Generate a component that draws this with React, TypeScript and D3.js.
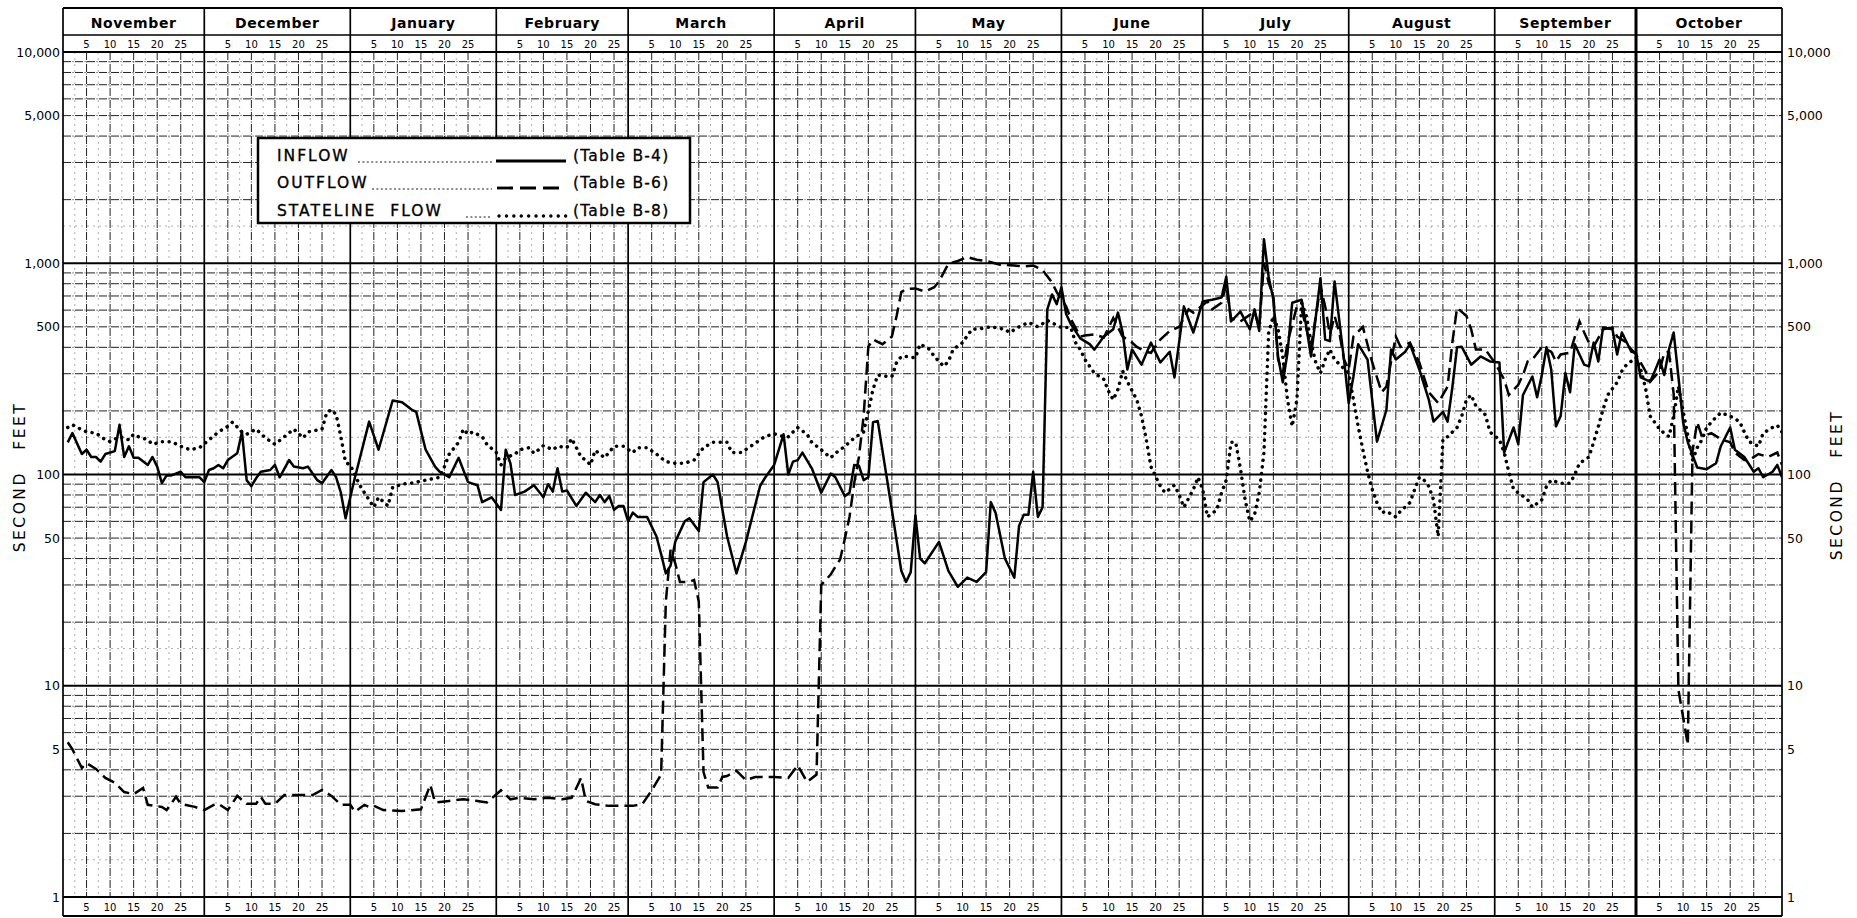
import React from 'react';
import * as d3 from 'd3';

// ---------- DATA ----------
const months = ['November', 'December', 'January', 'February', 'March', 'April', 'May', 'June', 'July', 'August', 'September', 'October'];
const monthDays = [30, 31, 31, 28, 31, 30, 31, 30, 31, 31, 30, 31];
const dayTickLabels = [5, 10, 15, 20, 25];
const yLabelValues = [1, 5, 10, 50, 100, 500, 1000, 5000, 10000];
const axisTitle = 'SECOND FEET';

// [day of water year (Nov 1 = 1), second-feet]
const inflow: [number, number][] = [
  [1,142],[2,157],[4,125],[5,131],[6,121],[7,121],[8,115],[9,125],[11,129],[12,172],[13,121],[14,136],[15,120],[16,120],[18,111],[19,121],[20,109],[21,91],[22,99],[23,99],[25,103],[26,97],[28,97],[29,97],[30,92],
  [31,105],[32,107],[33,111],[34,107],[35,117],[37,126],[38,159],[39,94],[40,88],[41,96],[42,103],[44,105],[45,111],[46,97],[48,117],[49,109],[51,107],[52,109],[54,94],[55,91],[57,105],[58,97],[59,82],[60,62],[61,78],[62,97],[65,178],[67,131],[70,224],[72,220],[74,203],[75,198],[77,131],[79,109],[80,103],[82,97],[84,120],[86,92],[88,89],[89,74],[91,78],[93,68],[94,131],[95,113],[96,80],[98,83],[100,89],[102,78],[103,90],[104,83],[105,107],[106,83],[107,84],[109,71],[111,82],[113,74],[114,80],[115,74],[116,79],[117,68],[118,71],
  [119,71],[120,60],[121,66],[122,63],[124,63],[126,51],[127,42],[128,34],[129,37],[130,48],[132,60],[133,62],[135,54],[136,92],[138,100],[139,92],[141,51],[143,34],[145,48],[148,88],[149,96],[151,111],[153,155],[154,100],[155,115],[156,117],[157,127],[159,107],[161,82],[163,101],[164,97],[166,79],[167,82],[168,111],[169,110],[170,94],[171,97],[172,177],[173,179],[176,68],[178,35],[179,31],[180,34.5],[181,64],[182,40],[183,38],[186,48],[188,35],[190,29.4],[192,32.5],[194,31],[196,34.5],[197,74],[198,66],[200,40],[202,32.5],[203,57],[204,64.5],[205,64.5],[206,103],[207,63],[208,70],
  [209,605],[210,712],[211,640],[212,770],[213,575],[214,515],[216,441],[218,414],[219,390],[221,450],[223,487],[224,584],[225,470],[226,314],[227,391],[229,331],[231,421],[233,339],[235,381],[236,288],[238,625],[240,470],[242,660],[244,672],[246,688],[247,863],[248,530],[250,590],[252,487],[253,605],[254,478],[255,1300],[256,863],[257,672],[258,362],[259,273],[260,377],[261,650],[263,672],[264,500],[265,362],[267,850],[268,435],[269,428],[270,820],[272,350],[273,218],[274,291],[275,414],[277,350],[279,143],[281,202],[282,391],[283,350],[285,381],[286,414],[288,314],[290,226],[291,178],[293,198],[294,178],[295,258],[296,400],[297,402],[299,331],[301,362],[303,343],[305,339],[306,127],[308,167],[309,139],[310,238],[312,291],[313,232],[314,296],[315,400],[316,314],[317,169],[318,189],[319,302],[320,245],[321,414],[323,331],[324,325],[325,421],[326,343],[327,496],[329,487],[330,370],[331,470],[333,381],[334,377],[335,288],[337,275],[338,309],[339,350],[340,296],[341,391],[342,470],[343,291],[344,177],[345,142],[347,108],[349,106],[351,113],[352,136],[354,167],[355,131],[357,121],[359,103],[360,107],[361,97],[363,103],[364,111],[365,97],
];

const outflow: [number, number][] = [
  [1,5.4],[2,5.0],[4,4.08],[5,4.3],[7,4.04],[9,3.66],[11,3.47],[13,3.14],[15,3.07],[17,3.28],[18,2.73],[21,2.67],[22,2.58],[24,2.98],[25,2.76],[28,2.67],[30,2.58],[32,2.73],[33,2.76],[35,2.58],[37,3.01],[39,2.76],[41,2.76],[42,2.98],[43,2.76],[45,2.76],[47,3.04],[50,3.04],[53,3.04],[55,3.21],[57,3.01],[59,2.73],[61,2.73],[62,2.53],[64,2.73],[65,2.67],[66,2.7],[68,2.58],[72,2.55],[76,2.6],[78,3.4],[79,2.8],[82,2.85],[85,2.9],[88,2.85],[90,2.8],[93,3.2],[95,2.9],[97,2.95],[100,2.9],[103,2.95],[106,2.9],[108,2.95],[110,3.66],[111,2.85],[113,2.75],[116,2.7],[119,2.7],[121,2.7],[123,2.75],[125,3.2],[127,3.8],
  [128,25],[129,44],[130,38],[131,31],[133,31],[134,31.7],[135,25],[136,3.9],[137,3.3],[139,3.3],[140,3.7],[141,3.74],[143,3.96],[145,3.58],[147,3.7],[151,3.7],[154,3.66],[156,4.2],[158,3.5],[160,3.8],[161,30],[163,33.6],[164,36.6],[165,39.6],[166,49.5],[167,63],[168,91],[169,121],[170,189],[171,403],[172,435],[174,414],[176,450],[177,563],[178,730],[179,755],[181,760],[183,735],[185,770],[186,820],[188,995],[190,1025],[192,1070],[194,1040],[196,1025],[199,985],[202,975],[204,965],[206,975],[208,930],[210,810],[211,730],[213,625],[214,545],[216,450],[217,455],[219,460],[221,445],[223,550],[225,450],[227,421],[228,402],[230,381],[231,377],[233,435],[235,478],[237,500],[239,605],[240,584],[243,660],[244,605],[246,650],[247,795],[248,550],[250,530],[251,550],[253,590],[254,495],[255,1005],[256,810],[257,700],[258,350],[259,302],[260,421],[262,625],[263,605],[265,400],[267,780],[268,625],[269,460],[270,563],[271,470],[272,350],[273,314],[274,450],[276,500],[278,339],[280,245],[281,261],[283,450],[284,402],[286,421],[288,339],[290,245],[292,218],[294,261],[295,421],[296,615],[298,563],[299,487],[300,391],[302,391],[304,339],[306,282],[307,238],[309,266],[310,296],[311,343],[312,350],[314,400],[316,381],[317,343],[318,370],[320,377],[322,530],[323,470],[324,421],[325,402],[327,487],[329,496],[330,450],[332,421],[333,391],[334,370],[336,309],[337,275],[339,309],[340,377],[341,381],[342,240],[343,9.6],[344,7.1],[345,5.25],[346,129],[347,177],[348,151],[350,157],[352,147],[354,142],[355,127],[357,117],[358,117],[360,125],[362,121],[364,127],[365,111],
];

const stateline: [number, number][] = [
  [1,167],[2,172],[3,167],[5,159],[7,157],[9,146],[10,143],[12,151],[14,146],[15,155],[16,151],[18,146],[19,139],[21,143],[23,143],[25,136],[27,131],[29,134],[31,146],[33,159],[35,169],[36,177],[38,159],[39,155],[41,164],[43,149],[45,139],[47,151],[49,164],[51,149],[52,159],[55,164],[56,196],[57,203],[58,192],[59,151],[60,114],[61,111],[63,89],[64,82],[66,70],[67,78],[69,71],[70,87],[72,90],[74,91],[77,94],[80,97],[81,109],[82,125],[84,142],[85,164],[86,155],[87,159],[89,151],[90,139],[92,127],[93,111],[94,120],[96,125],[97,131],[99,134],[100,126],[101,131],[102,137],[104,131],[105,136],[107,134],[108,148],[109,134],[110,121],[111,117],[112,111],[113,130],[114,125],[115,120],[117,136],[119,136],[121,127],[122,134],[124,134],[126,125],[128,115],[130,113],[132,113],[134,117],[136,134],[138,142],[141,142],[142,127],[144,127],[146,136],[149,151],[151,156],[153,151],[154,151],[156,167],[158,155],[159,142],[161,131],[163,120],[164,126],[166,136],[168,149],[170,159],[171,200],[172,253],[173,296],[175,291],[176,291],[177,339],[178,362],[179,362],[181,357],[182,414],[184,391],[185,362],[187,325],[188,343],[189,391],[191,421],[193,487],[195,491],[197,500],[200,487],[201,470],[203,500],[205,525],[207,500],[209,536],[212,496],[214,496],
  [215,421],[216,391],[217,350],[219,302],[221,282],[222,248],[223,226],[224,253],[225,309],[226,275],[228,226],[229,189],[230,147],[231,109],[233,88],[234,82],[236,89],[237,80],[238,70],[240,85],[241,97],[242,85],[243,63],[245,68],[246,82],[247,94],[248,142],[249,142],[250,107],[251,76],[252,60],[253,64.5],[254,82],[255,127],[256,470],[257,563],[258,487],[259,362],[260,226],[261,169],[262,226],[263,650],[264,563],[265,421],[266,339],[267,302],[268,350],[269,391],[270,350],[273,302],[274,226],[275,169],[276,131],[277,103],[278,85],[279,73.6],[280,66],[281,67],[283,63],[284,67],[286,73.6],[287,85],[288,97],[289,94],[290,88],[291,76],[292,51],[293,147],[294,151],[296,167],[297,189],[298,226],[299,238],[300,211],[302,192],[303,159],[305,146],[306,127],[307,103],[308,85],[310,79],[311,76],[312,70],[314,76],[315,88],[316,94],[318,91],[320,91],[321,100],[322,113],[324,121],[325,142],[326,169],[327,203],[328,238],[330,273],[331,309],[332,331],[334,357],[335,314],[336,258],[337,189],[339,164],[340,157],[341,151],[342,189],[343,261],[346,117],[347,134],[348,146],[349,167],[351,187],[352,196],[354,189],[356,178],[357,159],[358,143],[360,136],[361,157],[363,167],[364,171],[365,159],
];

const legendNames = ['INFLOW', 'OUTFLOW', 'STATELINE  FLOW'];
const legendTables = ['(Table B-4)', '(Table B-6)', '(Table B-8)'];

// ---------- LAYOUT ----------
const W = 1857;
const H = 918;
const L = 63, R = 1782, T = 52, B = 897;
const HEAD_TOP = 8, HEAD_MID = 35, FOOT_BOT = 916;
const FONT = "'DejaVu Sans', 'Liberation Sans', sans-serif";

const x = d3.scaleLinear().domain([0, 365]).range([L, R]);
const y = d3.scaleLog().domain([1, 10000]).range([B, T]);

const lineGen = d3.line<[number, number]>().x((d) => x(d[0])).y((d) => y(d[1]));

export default function App() {
  const starts = Array.from(d3.cumsum([0, ...monthDays])) as number[]; // 13 boundaries
  const fmt = d3.format(',');

  // horizontal grid
  const hMinor: number[] = [];
  const hFaint: number[] = [];
  const hMajor: number[] = [10, 100, 1000];
  [1, 10, 100, 1000].forEach((b) => {
    for (let m = 2; m <= 9; m++) hMinor.push(m * b);
    hFaint.push(1.5 * b);
  });

  // vertical grid
  const vMinor: number[] = [];
  const vFaint: number[] = [];
  starts.slice(0, 12).forEach((s, i) => {
    const len = monthDays[i];
    dayTickLabels.forEach((d) => vMinor.push(s + d));
    for (let d = 2.5; d < len; d += 5) vFaint.push(s + d);
  });

  const legendLeaderStart = [358, 372, 466];
  const legendRowY = [161, 188, 216];

  return (
    <svg width={W} height={H} style={{ position: 'absolute', left: 0, top: 0, background: '#fff' }} fontFamily={FONT}>
      <rect x={0} y={0} width={W} height={H} fill="#fff" />
      <defs>
        <clipPath id="plot">
          <rect x={L} y={T} width={R - L} height={B - T} />
        </clipPath>
      </defs>

      {/* faint grid */}
      <g stroke="#9a9a9a" strokeWidth={0.8} strokeDasharray="2 4">
        {hFaint.map((v) => (
          <line key={'hf' + v} x1={L} x2={R} y1={y(v)} y2={y(v)} />
        ))}
        {vFaint.map((d) => (
          <line key={'vf' + d} x1={x(d)} x2={x(d)} y1={T} y2={B} />
        ))}
      </g>
      {/* minor grid */}
      <g stroke="#222" strokeWidth={1} strokeDasharray="8 1.5 1 1.5">
        {hMinor.map((v) => (
          <line key={'hm' + v} x1={L} x2={R} y1={y(v)} y2={y(v)} />
        ))}
        {vMinor.map((d) => (
          <line key={'vm' + d} x1={x(d)} x2={x(d)} y1={T} y2={B} />
        ))}
      </g>
      {/* major grid */}
      <g stroke="#000" strokeWidth={1.8}>
        {hMajor.map((v) => (
          <line key={'hM' + v} x1={L} x2={R} y1={y(v)} y2={y(v)} />
        ))}
      </g>

      {/* series */}
      <g clipPath="url(#plot)" fill="none" stroke="#000">
        <path d={lineGen(stateline) || ''} strokeWidth={3.5} strokeDasharray="0.1 6.6" strokeLinecap="round" />
        <path d={lineGen(outflow) || ''} strokeWidth={2.5} strokeDasharray="13 6" />
        <path d={lineGen(inflow) || ''} strokeWidth={2.5} strokeLinejoin="round" />
      </g>

      {/* month boundaries through header, plot and footer */}
      <g stroke="#000">
        {starts.map((s, i) => (
          <line key={'mb' + i} x1={x(s)} x2={x(s)} y1={HEAD_TOP} y2={FOOT_BOT} strokeWidth={i === 11 ? 3 : 1.7} />
        ))}
      </g>

      {/* frame & header / footer rows */}
      <g stroke="#000" fill="none">
        <line x1={L} x2={R} y1={HEAD_TOP} y2={HEAD_TOP} strokeWidth={2} />
        <line x1={L} x2={R} y1={HEAD_MID} y2={HEAD_MID} strokeWidth={1.6} />
        <line x1={L} x2={R} y1={T} y2={T} strokeWidth={1.8} />
        <line x1={L} x2={R} y1={B} y2={B} strokeWidth={2} />
        <line x1={L} x2={R} y1={FOOT_BOT} y2={FOOT_BOT} strokeWidth={2} />
      </g>

      {/* month names */}
      <g fontSize={14} fontWeight="bold" textAnchor="middle" letterSpacing={0.6}>
        {months.map((m, i) => (
          <text key={m} x={(x(starts[i]) + x(starts[i + 1])) / 2} y={28}>
            {m}
          </text>
        ))}
      </g>
      {/* day labels top & bottom */}
      <g fontSize={10} textAnchor="middle">
        {starts.slice(0, 12).map((s, i) =>
          dayTickLabels.map((d) => (
            <React.Fragment key={i + '-' + d}>
              <text x={x(s + d)} y={48}>{d}</text>
              <text x={x(s + d)} y={911}>{d}</text>
            </React.Fragment>
          ))
        )}
      </g>

      {/* y labels */}
      <g fontSize={12.5}>
        {yLabelValues.map((v) => (
          <React.Fragment key={'yl' + v}>
            <text x={L - 3} y={y(v)} dy="0.36em" textAnchor="end">{fmt(v)}</text>
            <text x={R + 5} y={y(v)} dy="0.36em" textAnchor="start">{fmt(v)}</text>
          </React.Fragment>
        ))}
      </g>

      {/* axis titles */}
      <g fontSize={15.5} letterSpacing={2.5} wordSpacing={14} textAnchor="middle">
        <text transform="translate(25,477) rotate(-90)">{axisTitle}</text>
        <text transform="translate(1842,485) rotate(-90)">{axisTitle}</text>
      </g>

      {/* legend */}
      <g>
        <rect x={258} y={138} width={432} height={85} fill="#fff" stroke="#000" strokeWidth={2.5} />
        {legendNames.map((name, i) => {
          const yy = legendRowY[i];
          return (
            <g key={name}>
              <text x={277} y={yy} fontSize={15.5} letterSpacing={2} stroke="#000" strokeWidth={0.35} style={{ whiteSpace: 'pre' }}>
                {name}
              </text>
              <line x1={legendLeaderStart[i]} x2={492} y1={yy + 1} y2={yy + 1} stroke="#000" strokeWidth={0.9} strokeDasharray="2 2.4" />
              {i === 0 && <line x1={496} x2={566} y1={yy} y2={yy} stroke="#000" strokeWidth={2.8} />}
              {i === 1 && <line x1={497} x2={566} y1={yy} y2={yy} stroke="#000" strokeWidth={2.8} strokeDasharray="16 7" />}
              {i === 2 && (
                <line x1={499} x2={566} y1={yy} y2={yy} stroke="#000" strokeWidth={3.4} strokeDasharray="0.1 7.3" strokeLinecap="round" />
              )}
              <text x={573} y={yy} fontSize={15.5} letterSpacing={1.2} stroke="#000" strokeWidth={0.3}>
                {legendTables[i]}
              </text>
            </g>
          );
        })}
      </g>
    </svg>
  );
}
